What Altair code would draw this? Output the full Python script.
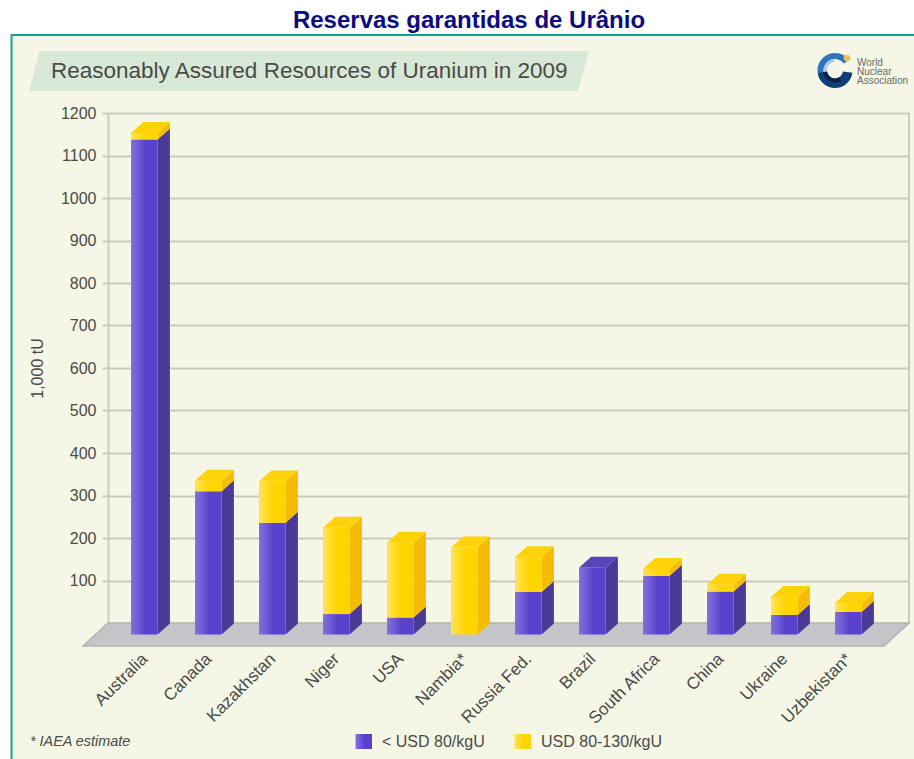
import altair as alt
import pandas as pd

# Reasonably assured uranium resources, thousand tonnes, split by cost band
countries = ["Australia", "Canada", "Kazakhstan", "Niger", "USA", "Nambia*", "Russia Fed.",
             "Brazil", "South Africa", "China", "Ukraine", "Uzbekistan*"]
below_80 = [1165, 337, 263, 48, 40, 0, 100, 157, 138, 101, 46, 53]
band_80_130 = [15, 25, 97, 203, 176, 205, 82, 0, 16, 16, 42, 21]
y_ticks = list(range(100, 1300, 100))

PURPLE_SIDE = "#4a3a95"
YELLOW_SIDE = "#f6bd00"
PURPLE_TOP = "#5a45b8"
YELLOW_TOP = "#ffd20a"
TEXT = "#4a4a48"
WALL = "#cbcbbc"
FONT = "Liberation Sans"

# The plot area is the back wall of the 3D scene; x is measured in bar slots
SLOT = 64.0
WIDTH, HEIGHT = 801, 510
LEFT, TOP = 108, 113
PX_PER_UNIT = HEIGHT / 1200
FIRST_BAR = 131 - LEFT
x_domain = [-FIRST_BAR / SLOT, (WIDTH - FIRST_BAR) / SLOT]


def slot(px):
    """Horizontal distance in page pixels, as bar slots."""
    return px / SLOT


def units(px):
    """Vertical distance in pixels, as thousand tonnes."""
    return px / PX_PER_UNIT


def page_x(px):
    return (px - LEFT - FIRST_BAR) / SLOT


def page_y(py):
    return (TOP + HEIGHT - py) / PX_PER_UNIT


BAR_W = slot(26.6)
DEPTH_X = slot(12.3)
DEPTH_Y = units(11)
FRONT_SHIFT = -units(11.5)
x_scale = alt.Scale(domain=x_domain, range=[0, WIDTH], nice=False, zero=False)
y_scale = alt.Scale(domain=[0, 1200], nice=False, zero=False)

fronts, sides, tops = [], [], []
for i, (name, low, high) in enumerate(zip(countries, below_80, band_80_130)):
    total = low + high
    for series, start, stop in (("low", 0, low), ("high", low, total)):
        if stop <= start:
            continue
        fronts.append({"series": series, "x": i, "x2": i + BAR_W,
                       "y": start + FRONT_SHIFT, "y2": stop + FRONT_SHIFT})
        key = f"{name}-{series}"
        for dx, dy in ((0, 0), (DEPTH_X, DEPTH_Y)):
            sides.append({"series": series, "key": key, "x": i + BAR_W + dx,
                          "y": start + FRONT_SHIFT + dy, "y2": stop + FRONT_SHIFT + dy})
    for dx, dy in ((0, 0), (DEPTH_X, DEPTH_Y)):
        tops.append({"series": "top_high" if high else "top_low", "key": name, "x": i + dx,
                     "x2": i + BAR_W + dx, "y": total + FRONT_SHIFT + dy})

fronts = pd.DataFrame(fronts)
sides = pd.DataFrame(sides)
tops = pd.DataFrame(tops)

purple_grad = alt.LinearGradient(gradient="linear", x1=0, x2=1, y1=0, y2=0, stops=[
    alt.GradientStop(offset=0, color="#8373da"),
    alt.GradientStop(offset=0.55, color="#5a40cc"),
    alt.GradientStop(offset=1, color="#5a40cc")])
yellow_grad = alt.LinearGradient(gradient="linear", x1=0, x2=1, y1=0, y2=0, stops=[
    alt.GradientStop(offset=0, color="#ffe45a"),
    alt.GradientStop(offset=0.55, color="#ffd500"),
    alt.GradientStop(offset=1, color="#ffd500")])

# Gridlines, ticks, numbers and the unit label all come from this one axis
y_axis = alt.Axis(
    values=y_ticks, format="d", title="1,000 tU", grid=True, gridColor=WALL, gridWidth=2,
    domainColor=WALL, domainWidth=2, tickColor=WALL, tickWidth=2, tickSize=6,
    labelFont=FONT, labelFontSize=16, labelColor=TEXT, labelPadding=6, titleFont=FONT,
    titleFontSize=16, titleFontWeight="normal", titleColor=TEXT, titleX=-63, titleY=255)

X = alt.X("x:Q", scale=x_scale, axis=None)
Y = alt.Y("y:Q", scale=y_scale, axis=y_axis)
series_color = alt.Color("series:N", legend=None,
                         scale=alt.Scale(domain=["low", "high"], range=[PURPLE_SIDE, YELLOW_SIDE]))
top_color = alt.Color("series:N", legend=None,
                      scale=alt.Scale(domain=["top_low", "top_high"], range=[PURPLE_TOP, YELLOW_TOP]))

right_wall = alt.Chart(pd.DataFrame({"x": [x_domain[1]]})).mark_rule(
    color=WALL, strokeWidth=2).encode(x=X, y=alt.value(0), y2=alt.value(HEIGHT))

# Slanted floor under the bars
floor = pd.DataFrame({"x": [page_x(83), page_x(108)], "x2": [page_x(884), page_x(909)],
                      "y": [page_y(646), page_y(623)]})
floor_layer = alt.Chart(floor).mark_area(orient="horizontal", color="#c4c5c8", stroke="#b2b2ae",
                                         strokeWidth=1.5).encode(
    x=X, x2="x2:Q", y=Y)

# Page furniture left of and above the chart panel
white_left = alt.Chart(pd.DataFrame({"a": [0]})).mark_rect(color="white").encode(
    x=alt.value(-LEFT), x2=alt.value(11 - LEFT), y=alt.value(-TOP), y2=alt.value(HEIGHT + 136))
white_top = alt.Chart(pd.DataFrame({"a": [0]})).mark_rect(color="white").encode(
    x=alt.value(-LEFT), x2=alt.value(WIDTH + 5), y=alt.value(-TOP), y2=alt.value(34 - TOP))
teal_left = alt.Chart(pd.DataFrame({"a": [0]})).mark_rule(color="#0fa392", strokeWidth=2).encode(
    x=alt.value(11.5 - LEFT), y=alt.value(34 - TOP), y2=alt.value(HEIGHT + 136))
teal_top = alt.Chart(pd.DataFrame({"a": [0]})).mark_rule(color="#0fa392", strokeWidth=2).encode(
    y=alt.value(35 - TOP), x=alt.value(11 - LEFT), x2=alt.value(WIDTH + 5))
page_title = alt.Chart(pd.DataFrame({"t": ["Reservas garantidas de Urânio"]})).mark_text(
    align="center", baseline="middle", font=FONT, fontSize=24, fontWeight="bold", color="#0b0b80").encode(
    x=alt.value(469 - LEFT), y=alt.value(21 - TOP), text="t:N")

# Slanted heading band
band = pd.DataFrame({"x": [page_x(29), page_x(39.5)], "x2": [page_x(578), page_x(589)],
                     "y": [page_y(91), page_y(51)]})
band_layer = alt.Chart(band).mark_area(orient="horizontal", color="#d8e8d7").encode(x=X, x2="x2:Q", y=Y)
heading = alt.Chart(pd.DataFrame({"t": ["Reasonably Assured Resources of Uranium in 2009"]})).mark_text(
    align="left", baseline="middle", font=FONT, fontSize=22.5, color=TEXT).encode(
    x=alt.value(51 - LEFT), y=alt.value(71 - TOP), text="t:N")

# The three visible faces of every bar
side_layer = alt.Chart(sides).mark_area().encode(x=X, y=Y, y2="y2:Q", detail="key:N", color=series_color)
top_layer = alt.Chart(tops).mark_area(orient="horizontal").encode(
    x=X, x2="x2:Q", y=Y, detail="key:N", color=top_color)
front_low = alt.Chart(fronts[fronts.series == "low"]).mark_rect(color=purple_grad).encode(
    x=X, x2="x2:Q", y=Y, y2="y2:Q")
front_high = alt.Chart(fronts[fronts.series == "high"]).mark_rect(color=yellow_grad).encode(
    x=X, x2="x2:Q", y=Y, y2="y2:Q")

# Country names, slanted, ending under each bar
names = pd.DataFrame({"x": [i + BAR_W * 0.52 for i in range(len(countries))],
                      "y": [page_y(656.5)] * len(countries), "name": countries})
name_layer = alt.Chart(names).mark_text(
    align="right", baseline="middle", angle=315, font=FONT, fontSize=17, color=TEXT).encode(
    x=X, y=Y, text="name:N")

# Footnote and cost-band key
note = alt.Chart(pd.DataFrame({"t": ["* IAEA estimate"]})).mark_text(
    align="left", baseline="middle", font=FONT, fontSize=14.4, fontStyle="italic", color=TEXT).encode(
    x=alt.value(30 - LEFT), y=alt.value(742 - TOP), text="t:N")
key_swatches = pd.DataFrame({"x": [page_x(355.5), page_x(514.5)], "x2": [page_x(372), page_x(531)],
                             "y": [page_y(749)] * 2, "y2": [page_y(734)] * 2})
swatch_low = alt.Chart(key_swatches.iloc[[0]]).mark_rect(color=purple_grad).encode(x=X, x2="x2:Q", y=Y, y2="y2:Q")
swatch_high = alt.Chart(key_swatches.iloc[[1]]).mark_rect(color=yellow_grad).encode(x=X, x2="x2:Q", y=Y, y2="y2:Q")
key_labels = pd.DataFrame({"x": [page_x(382), page_x(541)], "y": [page_y(742)] * 2,
                           "t": ["< USD 80/kgU", "USD 80-130/kgU"]})
key_text = alt.Chart(key_labels).mark_text(
    align="left", baseline="middle", font=FONT, fontSize=16, color=TEXT).encode(x=X, y=Y, text="t:N")

# World Nuclear Association emblem: a ring, heavy and dark at the bottom, open at the upper right
LOGO_X, LOGO_Y = 835 - LEFT, 70.5 - TOP


def emblem_arc(start, stop, outer, inner, tone):
    return alt.Chart(pd.DataFrame({"start": [start], "stop": [stop]})).mark_arc(
        outerRadius=outer, innerRadius=inner, color=tone).encode(
        x=alt.value(LOGO_X), y=alt.value(LOGO_Y), theta=alt.Theta("start:Q", scale=None), theta2="stop:Q")


emblem_dark = emblem_arc(1.7, 4.6, 17.5, 8, "#0f3f78")
emblem_core = emblem_arc(2.6, 4.6, 12, 8, "#08244a")
emblem_blue = emblem_arc(4.6, 7.2, 17.5, 11.5, "#2f75bd")
emblem_pale = emblem_arc(4.6, 6.2, 11.5, 8.5, "#a9c9e4")
emblem_dot = alt.Chart(pd.DataFrame({"a": [0]})).mark_point(
    filled=True, size=45, color="#e8c45a", opacity=1).encode(
    x=alt.value(847 - LEFT), y=alt.value(58 - TOP))
logo_words = pd.DataFrame({"t": ["World", "Nuclear", "Association"],
                           "x": [page_x(857)] * 3,
                           "y": [page_y(62.5), page_y(71.7), page_y(80.9)]})
logo_text = alt.Chart(logo_words).mark_text(
    align="left", baseline="middle", font=FONT, fontSize=10, color="#6a6a68").encode(
    x=X, y=Y, text="t:N")

chart = alt.layer(
    right_wall, white_left, white_top, teal_top, teal_left, page_title, band_layer, heading,
    floor_layer, side_layer, top_layer, front_low, front_high, name_layer,
    note, swatch_low, swatch_high, key_text,
    emblem_dark, emblem_core, emblem_blue, emblem_pale, emblem_dot, logo_text,
).resolve_scale(color="independent").properties(
    width=WIDTH, height=HEIGHT, background="#f5f6e6",
    padding={"left": LEFT, "top": TOP, "right": 914 - LEFT - WIDTH, "bottom": 759 - TOP - HEIGHT},
    autosize=alt.AutoSizeParams(type="none"),
).configure_view(stroke=None)

chart.save("out.html", embed_options={"renderer": "svg", "actions": False})
